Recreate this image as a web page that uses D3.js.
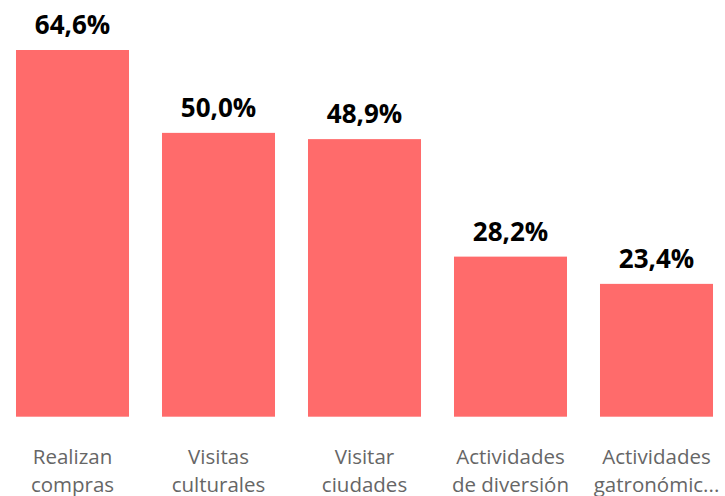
<!DOCTYPE html>
<html>
<head>
<meta charset="utf-8">
<script src="https://cdn.jsdelivr.net/npm/d3@7"></script>
<style>
  body { margin: 0; background: #fff; }
  .value-label { font-family: "Open Sans", sans-serif; font-weight: 700; font-size: 26px; fill: #000; }
  .cat-label { font-family: "Open Sans", sans-serif; font-size: 20.5px; fill: #666; }
</style>
</head>
<body>
<div id="chart"></div>
<script>
const categories = ["Realizan compras", "Visitas culturales", "Visitar ciudades", "Actividades de diversión", "Actividades gatronómicas"];
const categoryLines = [
  ["Realizan", "compras"],
  ["Visitas", "culturales"],
  ["Visitar", "ciudades"],
  ["Actividades", "de diversión"],
  ["Actividades", "gatronómic..."]
];
const values = [64.6, 50.0, 48.9, 28.2, 23.4];

const width = 725, height = 496;
const baseline = 416.7;

const data = categories.map((c, i) => ({ cat: c, lines: categoryLines[i], value: values[i] }));

const svg = d3.select("#chart")
  .append("svg")
  .attr("width", width)
  .attr("height", height);

const xScale = d3.scaleBand()
  .domain(categories)
  .range([-0.5, 729.5])
  .paddingInner(0.226)
  .paddingOuter(0.113);

const yScale = d3.scaleLinear()
  .domain([0, 64.6])
  .range([baseline, 50]);

const fmt = v => d3.format(".1f")(v).replace(".", ",") + "%";

// bars
svg.selectAll(".bar")
  .data(data)
  .enter()
  .append("rect")
  .attr("class", "bar")
  .attr("x", d => xScale(d.cat))
  .attr("y", d => yScale(d.value))
  .attr("width", xScale.bandwidth())
  .attr("height", d => baseline - yScale(d.value))
  .attr("fill", "#ff6b6b");

// value labels
svg.selectAll(".value-label")
  .data(data)
  .enter()
  .append("text")
  .attr("class", "value-label")
  .attr("x", d => xScale(d.cat) + xScale.bandwidth() / 2)
  .attr("y", d => yScale(d.value) - 16)
  .attr("text-anchor", "middle")
  .text(d => fmt(d.value));

// category labels (second line runs off the bottom, as in the original)
const catG = svg.selectAll(".cat")
  .data(data)
  .enter()
  .append("text")
  .attr("class", "cat-label")
  .attr("text-anchor", "middle");

catG.selectAll("tspan")
  .data(d => d.lines.map((l, i) => ({ l, i, x: xScale(d.cat) + xScale.bandwidth() / 2 })))
  .enter()
  .append("tspan")
  .attr("x", d => d.x)
  .attr("y", d => 464 + d.i * 28)
  .text(d => d.l);
</script>
</body>
</html>
